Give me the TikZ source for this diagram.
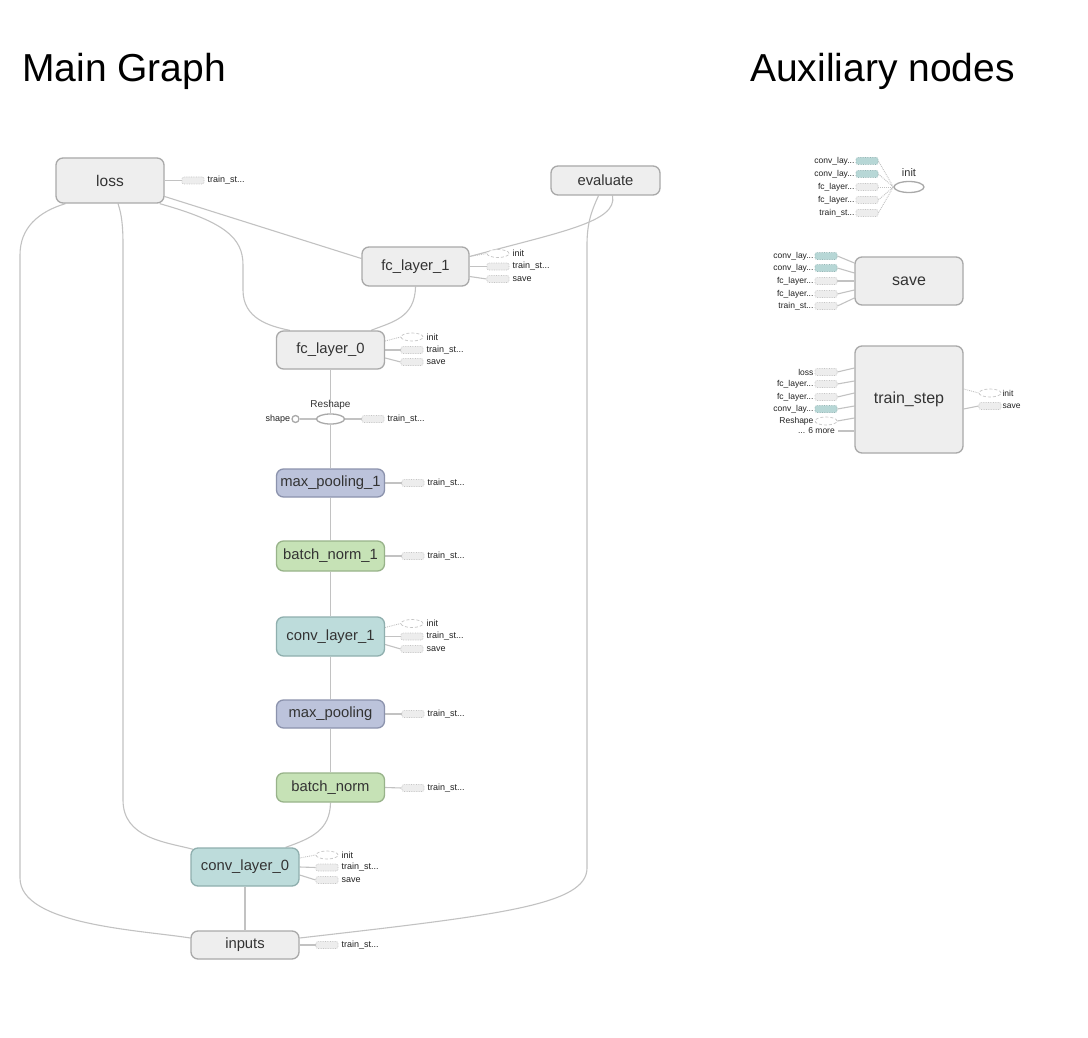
\documentclass[tikz,border=0pt]{standalone}
\usepackage{fontspec}
\setmainfont{Liberation Sans}
\usetikzlibrary{shapes.geometric,calc,backgrounds}
\definecolor{gfill}{HTML}{EEEEEE}
\definecolor{gbord}{HTML}{A9A9A9}
\definecolor{tfill}{HTML}{BDDCDB}
\definecolor{tbord}{HTML}{8FAFAE}
\definecolor{bfill}{HTML}{BCC3DB}
\definecolor{bbord}{HTML}{8C93AD}
\definecolor{nfill}{HTML}{C6E2B6}
\definecolor{nbord}{HTML}{98B38A}
\definecolor{ecol}{HTML}{C2C2C2}
\definecolor{sfill}{HTML}{EDEDED}
\definecolor{sbord}{HTML}{C4C4C4}
\definecolor{stfill}{HTML}{B7D7D6}
\definecolor{stbord}{HTML}{93B6B5}
\definecolor{ntext}{HTML}{333333}
\definecolor{ltext}{HTML}{222222}
\begin{document}
\begin{tikzpicture}[x=1pt,y=-1pt,
  box/.style={rectangle, rounded corners=7pt, draw=gbord, fill=gfill, line width=1.3pt,
    minimum width=108pt, minimum height=#1, inner sep=0pt, text=ntext,
    font=\fontsize{14.8}{15}\selectfont},
  box/.default=39pt,
  tealbox/.style={fill=tfill, draw=tbord},
  bluebox/.style={fill=bfill, draw=bbord},
  greenbox/.style={fill=nfill, draw=nbord},
  lbl/.style={font=\fontsize{9}{9}\selectfont, inner sep=1pt, text=ltext},
  lbls/.style={font=\fontsize{8.5}{8.5}\selectfont, inner sep=1pt, text=ltext},
  rl/.style={label={[lbl,label distance=2pt]east:{#1}}},
  ll/.style={label={[lbls]west:{#1}}},
  rls/.style={label={[lbls]east:{#1}}},
  stubr/.style={rectangle, rounded corners=2pt, draw=sbord, densely dotted, fill=sfill,
    minimum width=22pt, minimum height=7pt, inner sep=0pt, line width=0.7pt},
  stubt/.style={stubr, fill=stfill, draw=stbord},
  stube/.style={ellipse, draw=sbord, densely dashed, fill=white, minimum width=22pt,
    minimum height=8pt, inner sep=0pt, line width=0.7pt},
  edge/.style={draw=ecol, line width=1.1pt},
  dotl/.style={draw=ecol, line width=0.9pt, densely dotted},
  title/.style={anchor=base west, font=\fontsize{39}{39}\selectfont, inner sep=0pt, text=black}
]
\useasboundingbox (0,0) rectangle (1088,1038);

% titles
\node[title] (t1) at (22,82) {Main Graph};
\node[title] (t2) at (750,82) {Auxiliary nodes};

% main graph nodes
\node[box=45pt, font=\fontsize{15.5}{16}\selectfont] (loss) at (110,180.5) {loss};
\node[box=29pt, minimum width=109pt] (eval) at (605.5,180.5) {evaluate};
\node[box=39pt, minimum width=107pt] (fc1) at (415.5,266.5) {fc\_layer\_1};
\node[box=38pt] (fc0) at (330.5,350) {fc\_layer\_0};
\node[ellipse, draw=gbord, fill=white, line width=1.3pt, minimum width=28pt, minimum height=10pt, inner sep=0pt] (resh) at (330.5,419) {};
\node[font=\fontsize{10}{10}\selectfont, text=ntext, inner sep=0pt] (reshl) at (330.5,405) {Reshape};
\node[circle, draw=gbord, fill=white, line width=1.3pt, minimum size=7pt, inner sep=0pt, label={[lbl]west:shape}] (shp) at (295.5,419) {};
\node[box=28pt, bluebox] (mp1) at (330.5,483) {max\_pooling\_1};
\node[box=30pt, greenbox] (bn1) at (330.5,556) {batch\_norm\_1};
\node[box=39pt, tealbox] (cv1) at (330.5,636.5) {conv\_layer\_1};
\node[box=28pt, bluebox] (mp0) at (330.5,714) {max\_pooling};
\node[box=29pt, greenbox] (bn0) at (330.5,787.5) {batch\_norm};
\node[box=38pt, tealbox] (cv0) at (245,867) {conv\_layer\_0};
\node[box=28pt] (inp) at (245,945) {inputs};

% main graph stubs
\node[stubr, rl={train\_st...}] (lossT) at (193,180.5) {};
\node[stube, rl={init}] (fc1i) at (498,253.5) {};
\node[stubr, rl={train\_st...}] (fc1t) at (498,266.5) {};
\node[stubr, rl={save}] (fc1s) at (498,279) {};
\node[stube, rl={init}] (fc0i) at (412,337) {};
\node[stubr, rl={train\_st...}] (fc0t) at (412,350) {};
\node[stubr, rl={save}] (fc0s) at (412,362) {};
\node[stubr, rl={train\_st...}] (reshT) at (373,419) {};
\node[stubr, rl={train\_st...}] (mp1T) at (413,483) {};
\node[stubr, rl={train\_st...}] (bn1T) at (413,556) {};
\node[stube, rl={init}] (cv1i) at (412,623.5) {};
\node[stubr, rl={train\_st...}] (cv1t) at (412,636.5) {};
\node[stubr, rl={save}] (cv1s) at (412,649) {};
\node[stubr, rl={train\_st...}] (mp0T) at (413,714) {};
\node[stubr, rl={train\_st...}] (bn0T) at (413,788) {};
\node[stube, rl={init}] (cv0i) at (327,855) {};
\node[stubr, rl={train\_st...}] (cv0t) at (327,867.5) {};
\node[stubr, rl={save}] (cv0s) at (327,880) {};
\node[stubr, rl={train\_st...}] (inpT) at (327,945) {};

% auxiliary nodes
\node[ellipse, draw=gbord, fill=white, line width=1.3pt, minimum width=30pt, minimum height=11pt, inner sep=0pt] (init) at (909,187) {};
\node[font=\fontsize{11}{11}\selectfont, text=ntext, inner sep=0pt] (initl) at (909,173) {init};
\node[stubt, ll={conv\_lay...}] (i1) at (867,161) {};
\node[stubt, ll={conv\_lay...}] (i2) at (867,174) {};
\node[stubr, ll={fc\_layer...}] (i3) at (867,187) {};
\node[stubr, ll={fc\_layer...}] (i4) at (867,200) {};
\node[stubr, ll={train\_st...}] (i5) at (867,213) {};

\node[box=48pt, font=\fontsize{16}{16}\selectfont] (save) at (909,281) {save};
\node[stubt, ll={conv\_lay...}] (s1) at (826,256) {};
\node[stubt, ll={conv\_lay...}] (s2) at (826,268) {};
\node[stubr, ll={fc\_layer...}] (s3) at (826,281) {};
\node[stubr, ll={fc\_layer...}] (s4) at (826,294) {};
\node[stubr, ll={train\_st...}] (s5) at (826,306) {};

\node[box=107pt, font=\fontsize{16}{16}\selectfont] (ts) at (909,399.5) {train\_step};
\node[stubr, ll={loss}] (ts1) at (826,372) {};
\node[stubr, ll={fc\_layer...}] (ts2) at (826,384) {};
\node[stubr, ll={fc\_layer...}] (ts3) at (826,397) {};
\node[stubt, ll={conv\_lay...}] (ts4) at (826,409) {};
\node[stube, ll={Reshape}] (ts5) at (826,421) {};
\node[lbls, anchor=east] (tsmore) at (836,431) {... 6 more};
\node[stube, rls={init}] (tsi) at (990,393) {};
\node[stubr, rls={save}] (tss) at (990,406) {};

\begin{scope}[on background layer]
\fill[white] (0,0) rectangle (1088,1038);
% long edges
\draw[edge] ([xshift=10pt]loss.south west) .. controls (38,212) and (20,228) .. (20,255) -- (20,878) .. controls (20,925) and (140,930) .. ([yshift=7pt]inp.west);
\draw[edge] ([xshift=8pt]loss.south) .. controls (122,215) and (123,228) .. (123,245) -- (123,800) .. controls (123,838) and (165,842) .. ([xshift=3pt,yshift=-2pt]cv0.north west);
\draw[edge] ([xshift=-5pt]loss.south east) .. controls (225,222) and (243,238) .. (243,265) -- (243,290) .. controls (243,318) and (268,326) .. ([xshift=14pt]fc0.north west);
\draw[edge] ([yshift=-16pt]loss.east) -- ([yshift=8pt]fc1.west);
\draw[edge] ([xshift=7pt]eval.south) .. controls (618,222) and (560,232) .. ([yshift=10pt]fc1.east);
\draw[edge] ([xshift=-7pt]eval.south) .. controls (592,210) and (587,222) .. (587,245) -- (587,868) .. controls (587,905) and (500,915) .. ([yshift=7pt]inp.east);
\draw[edge] (fc1.south) .. controls (415,318) and (392,322) .. ([xshift=-14pt]fc0.north east);
\draw[edge] (fc0.south) -- (resh.north);
\draw[edge] (resh.south) -- (mp1.north);
\draw[edge] (mp1.south) -- (bn1.north);
\draw[edge] (bn1.south) -- (cv1.north);
\draw[edge] (cv1.south) -- (mp0.north);
\draw[edge] (mp0.south) -- (bn0.north);
\draw[edge] (bn0.south) .. controls (330,830) and (312,838) .. ([xshift=-14pt]cv0.north east);
\draw[edge] (cv0.south) -- (inp.north);
\draw[edge] (shp.east) -- (resh.west);
\draw[edge] (resh.east) -- (reshT.west);
% stub edges
\draw[edge] (loss.east) -- (lossT.west);
\draw[dotl] ([yshift=10pt]fc1.east) -- (fc1i.west);
\draw[edge] (fc1.east) -- (fc1t.west);
\draw[edge] ([yshift=-10pt]fc1.east) -- (fc1s.west);
\draw[dotl] ([yshift=9pt]fc0.east) -- (fc0i.west);
\draw[edge] (fc0.east) -- (fc0t.west);
\draw[edge] ([yshift=-8pt]fc0.east) -- (fc0s.west);
\draw[edge] (mp1.east) -- (mp1T.west);
\draw[edge] (bn1.east) -- (bn1T.west);
\draw[dotl] ([yshift=9pt]cv1.east) -- (cv1i.west);
\draw[edge] (cv1.east) -- (cv1t.west);
\draw[edge] ([yshift=-8pt]cv1.east) -- (cv1s.west);
\draw[edge] (mp0.east) -- (mp0T.west);
\draw[edge] (bn0.east) -- (bn0T.west);
\draw[dotl] ([yshift=9pt]cv0.east) -- (cv0i.west);
\draw[edge] (cv0.east) -- (cv0t.west);
\draw[edge] ([yshift=-8pt]cv0.east) -- (cv0s.west);
\draw[edge] (inp.east) -- (inpT.west);
% auxiliary edges
\foreach \n in {i1,i2,i3,i4,i5} {\draw[dotl] (\n.east) -- (init.west);}
\draw[edge] (s1.east) -- ([yshift=18pt]save.west);
\draw[edge] (s2.east) -- ([yshift=8pt]save.west);
\draw[edge] (s3.east) -- (save.west);
\draw[edge] (s4.east) -- ([yshift=-9pt]save.west);
\draw[edge] (s5.east) -- ([yshift=-17pt]save.west);
\draw[edge] (ts1.east) -- ([yshift=31.5pt]ts.west);
\draw[edge] (ts2.east) -- ([yshift=18.5pt]ts.west);
\draw[edge] (ts3.east) -- ([yshift=6.5pt]ts.west);
\draw[edge] (ts4.east) -- ([yshift=-6.5pt]ts.west);
\draw[edge] (ts5.east) -- ([yshift=-18.5pt]ts.west);
\draw[edge] ([xshift=2pt]tsmore.east) -- ([yshift=-31.5pt]ts.west);
\draw[dotl] ([yshift=10.5pt]ts.east) -- (tsi.west);
\draw[edge] ([yshift=-9.5pt]ts.east) -- (tss.west);
\end{scope}
\end{tikzpicture}
\end{document}
